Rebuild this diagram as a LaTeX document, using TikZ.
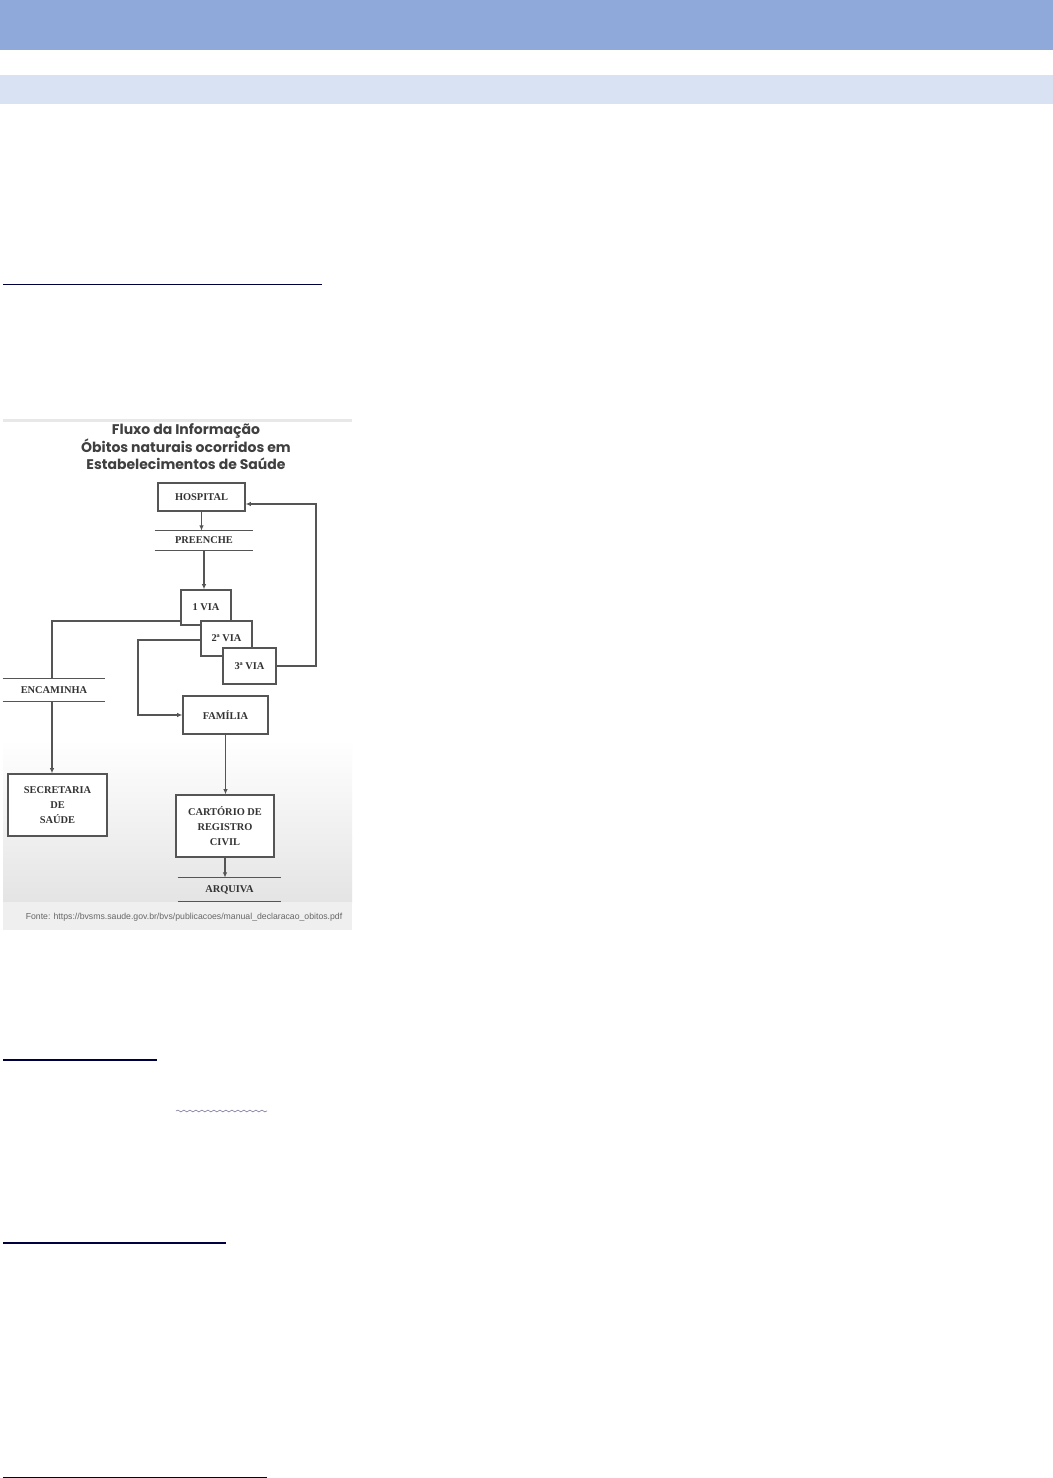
\documentclass[tikz,border=0pt]{standalone}
\usepackage{fontspec}
\setmainfont{Liberation Serif}
\newfontfamily\titlefont{Poppins}
\newfontfamily\notefont{Liberation Sans}
\usetikzlibrary{arrows.meta,decorations.pathmorphing}
\definecolor{band}{HTML}{8FAADA}
\definecolor{lightband}{HTML}{D9E2F3}
\definecolor{navy}{HTML}{00003F}
\definecolor{linegray}{HTML}{555555}
\definecolor{boxtext}{HTML}{333333}
\definecolor{titlegray}{HTML}{404040}
\definecolor{imgbot}{HTML}{E4E4E4}
\definecolor{footer}{HTML}{EFEFEF}
\definecolor{wavy}{HTML}{7A7A9A}
\newcommand\boxfont{\fontsize{5.2}{7.4}\selectfont\bfseries}
\begin{document}
\begin{tikzpicture}[x=0.5pt,y=-0.5pt,
  line/.style={draw=linegray,line width=0.6pt},
  arr/.style={line,-{Latex[length=2.6pt,width=2.2pt]}},
  box/.style={draw=linegray,line width=0.6pt,fill=white,inner sep=0pt,align=center,font=\boxfont,text=boxtext},
  barlabel/.style={inner sep=0pt,font=\boxfont,text=boxtext},
  uline/.style={draw=navy}]
\useasboundingbox (0,0) rectangle (1053,1478);
\fill[white] (0,0) rectangle (1053,1478);
% header bands
\fill[band] (0,0) rectangle (1053,50);
\fill[lightband] (0,75) rectangle (1053,104);
% underlines
\draw[uline,line width=0.5pt] (3,284) -- (322,284);
\draw[uline,line width=0.8pt] (3,1060) -- (157,1060);
\draw[draw=wavy,line width=0.3pt,decorate,decoration={snake,amplitude=0.45,segment length=3}] (176,1111) -- (267,1111);
\draw[uline,line width=0.9pt] (3,1243) -- (226,1243);
\draw[uline,line width=0.5pt] (3,1477) -- (267,1477);
% image background
\fill[white] (3,418) rectangle (352,930);
\shade[top color=white,bottom color=imgbot] (3,740) rectangle (352,902);
\fill[footer] (3,902) rectangle (352,930);
\fill[gray!18] (3,419) rectangle (352,422);
% title
\node[font=\titlefont\bfseries\fontsize{7}{8.75}\selectfont,text=titlegray,align=center,inner sep=0pt] (title) at (186,447)
  {Fluxo da Informação\\Óbitos naturais ocorridos em\\Estabelecimentos de Saúde};
% nodes
\node[box,minimum width=43.5pt,minimum height=14pt] (hosp) at (201.5,497) {HOSPITAL};
\node[barlabel,minimum width=49pt,minimum height=9.5pt] (pre) at (204,540.5) {PREENCHE};
\node[box,minimum width=25pt,minimum height=17.5pt] (via1) at (206,607.5) {1 VIA};
\node[box,minimum width=25.5pt,minimum height=17.5pt] (via2) at (226.5,638.5) {2ª VIA};
\node[box,minimum width=26.5pt,minimum height=18pt] (via3) at (249.5,666) {3ª VIA};
\node[barlabel,minimum width=51pt,minimum height=11pt] (enc) at (54,690) {ENCAMINHA};
\node[box,minimum width=42.5pt,minimum height=19pt] (fam) at (225.5,715) {FAMÍLIA};
\node[box,minimum width=49.5pt,minimum height=31pt] (sec) at (57.5,805) {SECRETARIA\\DE\\SAÚDE};
\node[box,minimum width=49pt,minimum height=31pt] (cart) at (225,826) {CARTÓRIO DE\\REGISTRO\\CIVIL};
\node[barlabel,minimum width=51.5pt,minimum height=11.5pt] (arq) at (229.5,889.5) {ARQUIVA};
\node[font=\notefont\fontsize{4.35}{5}\selectfont,text=gray!80!black,inner sep=0pt] (src) at (184,917)
  {Fonte: https://bvsms.saude.gov.br/bvs/publicacoes/manual\_declaracao\_obitos.pdf};
% bar lines
\foreach \n in {pre,enc,arq}{
  \draw[line] (\n.north west) -- (\n.north east);
  \draw[line] (\n.south west) -- (\n.south east);
}
% connectors
\coordinate (c1) at (52,621);
\coordinate (c2) at (138,640);
\coordinate (c3) at (316,504);
\draw[arr] (hosp.south) -- (hosp.south |- pre.north);
\draw[arr] (pre.south) -- (pre.south |- via1.north);
\draw[line] (c1 -| via1.west) -- (c1) -- (c1 |- enc.north);
\draw[arr] (c1 |- enc.south) -- (c1 |- sec.north);
\draw[arr] (c2 -| via2.west) -- (c2) |- (fam.west);
\draw[arr] (via3.east) -| (c3) -- (c3 -| hosp.east);
\draw[arr] (fam.south) -- (fam.south |- cart.north);
\draw[arr] (cart.south) -- (cart.south |- arq.north);
\end{tikzpicture}
\end{document}
